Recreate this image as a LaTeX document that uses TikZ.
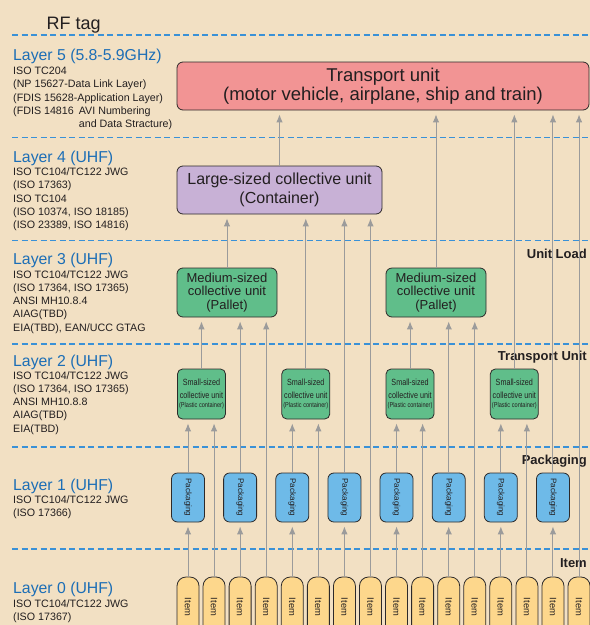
\documentclass[tikz,border=0pt]{standalone}
\usepackage{fontspec}
\setmainfont{Liberation Sans}
\usetikzlibrary{
    positioning,                      % right=of, below=of, etc.
    arrows.meta,                      % puntas modernas (Latex, Stealth)
    calc                              % aritmetica de coordenadas
}
\definecolor{fondo}{RGB}{242,224,195}
\definecolor{rosa}{RGB}{242,148,148}
\definecolor{lila}{RGB}{200,177,214}
\definecolor{verde}{RGB}{96,190,138}
\definecolor{azul}{RGB}{110,186,232}
\definecolor{amarillo}{RGB}{253,215,140}
\definecolor{gris}{RGB}{155,155,155}
\definecolor{azulcapa}{RGB}{58,145,215}
\definecolor{azultitulo}{RGB}{28,110,182}
\definecolor{texto}{RGB}{35,31,32}
\definecolor{borde}{RGB}{45,42,42}
\newcommand{\cond}[1]{\scalebox{0.8}[1]{#1}}
\tikzset{
    unit/.style={
        rectangle, draw=borde, line width=0.8pt, rounded corners=6pt,
        align=center, inner sep=0pt, text=texto
    },
    transporte/.style={
        unit, fill=rosa, minimum width=412pt, minimum height=48pt,
        font=\fontsize{18.5}{19}\selectfont
    },
    grande/.style={
        unit, fill=lila, minimum width=205pt, minimum height=48pt,
        font=\fontsize{16}{19}\selectfont
    },
    mediano/.style={
        unit, fill=verde, minimum width=100pt, minimum height=49pt,
        font=\fontsize{13}{13.2}\selectfont
    },
    pequeno/.style={
        unit, fill=verde, minimum width=48pt, minimum height=50pt,
        rounded corners=5pt, font=\fontsize{9}{12.5}\selectfont
    },
    paquete/.style={
        unit, fill=azul, minimum width=33pt, minimum height=49pt,
        font=\fontsize{8.1}{9}\selectfont
    },
    articulo/.style={
        unit, fill=amarillo, minimum width=22pt, minimum height=60pt,
        rounded corners=9pt, font=\fontsize{9.3}{10}\selectfont
    },
    flecha/.style={
        -{Latex[length=8pt,width=6.5pt]}, draw=gris, line width=1pt,
        shorten >=4pt
    },
    capaline/.style={
        draw=azulcapa, line width=1.8pt, dash pattern=on 6pt off 3.5pt
    },
    capa/.style={
        anchor=base west, inner sep=0pt, text=azultitulo,
        font=\fontsize{15.8}{18}\selectfont
    },
    detalle/.style={
        anchor=base west, inner sep=0pt, align=left, text=texto,
        font=\fontsize{10.7}{13.3}\selectfont
    },
    etiqueta/.style={
        anchor=base east, inner sep=0pt, text=texto,
        font=\fontsize{13}{15}\selectfont\bfseries
    }
}

\begin{document}
\begin{tikzpicture}[x=1pt, y=-1pt]

    \useasboundingbox (0,0) rectangle (590,625);
    \clip (0,0) rectangle (590,625);
    \fill[fondo] (0,0) rectangle (590,625);

    % Lineas de separacion entre capas
    \foreach \y in {35, 137.5, 240.5, 344, 447, 549}
        \draw[capaline] (12,\y) -- (592,\y);

    % Columna izquierda (base = ultima linea del texto)
    \node[anchor=base west, inner sep=0pt, text=texto, font=\fontsize{18}{20}\selectfont]
        (rf) at (46.5,29) {RF tag};

    \node[capa] (l5) at (13,60.5) {Layer 5 (5.8-5.9GHz)};
    \node[detalle] (l5d) at (13,127.7)
        {ISO TC204\\(NP 15627-Data Link Layer)\\(FDIS 15628-Application Layer)\\
         (FDIS 14816\hspace{5pt}AVI Numbering\\
         \hphantom{(FDIS 14816\hspace{5pt}}and Data Stracture)};

    \node[capa] (l4) at (13,162) {Layer 4 (UHF)};
    \node[detalle] (l4d) at (13,228.7)
        {ISO TC104/TC122 JWG\\(ISO 17363)\\ISO TC104\\(ISO 10374, ISO 18185)\\(ISO 23389, ISO 14816)};

    \node[capa] (l3) at (13,264.5) {Layer 3 (UHF)};
    \node[detalle] (l3d) at (13,331.2)
        {ISO TC104/TC122 JWG\\(ISO 17364, ISO 17365)\\ANSI MH10.8.4\\AIAG(TBD)\\EIA(TBD), EAN/UCC GTAG};

    \node[capa] (l2) at (13,366) {Layer 2 (UHF)};
    \node[detalle] (l2d) at (13,432.2)
        {ISO TC104/TC122 JWG\\(ISO 17364, ISO 17365)\\ANSI MH10.8.8\\AIAG(TBD)\\EIA(TBD)};

    \node[capa] (l1) at (13,490.5) {Layer 1 (UHF)};
    \node[detalle] (l1d) at (13,516.3)
        {ISO TC104/TC122 JWG\\(ISO 17366)};

    \node[capa] (l0) at (13,593.5) {Layer 0 (UHF)};
    \node[detalle] (l0d) at (13,620.3)
        {ISO TC104/TC122 JWG\\(ISO 17367)};

    % Etiquetas a la derecha
    \node[etiqueta] (eul) at (587,258) {Unit Load};
    \node[etiqueta] (etu) at (587,360.5) {Transport Unit};
    \node[etiqueta] (epk) at (587,464) {Packaging};
    \node[etiqueta] (eit) at (587,567.5) {Item};

    % Unidades
    \node[transporte] (tu) at (383,86)
        {Transport unit\\(motor vehicle, airplane, ship and train)};
    \node[grande] (lc) at (279.5,190)
        {Large-sized collective unit\\(Container)};
    \node[mediano] (mc1) at (227,292.5) {Medium-sized\\collective unit\\(Pallet)};
    \node[mediano] (mc2) at (436,292.5) {Medium-sized\\collective unit\\(Pallet)};

    \foreach \k in {0,...,3}
        \node[pequeno] (sc\k) at ({201.5+104.28*\k},394)
            {\cond{Small-sized}\\\cond{collective unit}\\[-3.5pt]
             {\fontsize{7}{8}\selectfont\cond{(Plastic container)}}};

    \foreach \j in {0,...,7}
        \node[paquete] (pk\j) at ({188+52.14*\j},497.5) {\rotatebox{-90}{Packaging}};

    \foreach \i in {0,...,15}
        \node[articulo] (it\i) at ({188+26.07*\i},607) {\rotatebox{-90}{Item}};

    % Flechas: item -> packaging
    \foreach \i/\j in {0/0, 2/1, 4/2, 6/3, 8/4, 10/5, 12/6, 14/7}
        \draw[flecha] (it\i.north) -- (it\i.north |- pk\j.south);

    % Flechas -> small-sized
    \foreach \p/\i/\k in {0/1/0, 2/5/1, 4/9/2, 6/13/3} {
        \draw[flecha] (pk\p.north) -- (pk\p.north |- sc\k.south);
        \draw[flecha] (it\i.north) -- (it\i.north |- sc\k.south);
    }

    % Flechas -> medium-sized
    \foreach \s/\p/\i/\m in {0/1/3/mc1, 2/5/11/mc2} {
        \draw[flecha] (sc\s.north) -- (sc\s.north |- \m.south);
        \draw[flecha] (pk\p.north) -- (pk\p.north |- \m.south);
        \draw[flecha] (it\i.north) -- (it\i.north |- \m.south);
    }

    % Flechas -> large-sized
    \draw[flecha] (mc1.north) -- (mc1.north |- lc.south);
    \draw[flecha] (sc1.north) -- (sc1.north |- lc.south);
    \draw[flecha] (pk3.north) -- (pk3.north |- lc.south);
    \draw[flecha] (it7.north) -- (it7.north |- lc.south);

    % Flechas -> transport unit
    \draw[flecha] (lc.north) -- (lc.north |- tu.south);
    \draw[flecha] (mc2.north) -- (mc2.north |- tu.south);
    \draw[flecha] (sc3.north) -- (sc3.north |- tu.south);
    \draw[flecha] (pk7.north) -- (pk7.north |- tu.south);
    \draw[flecha] (it15.north) -- (it15.north |- tu.south);

\end{tikzpicture}
\end{document}
